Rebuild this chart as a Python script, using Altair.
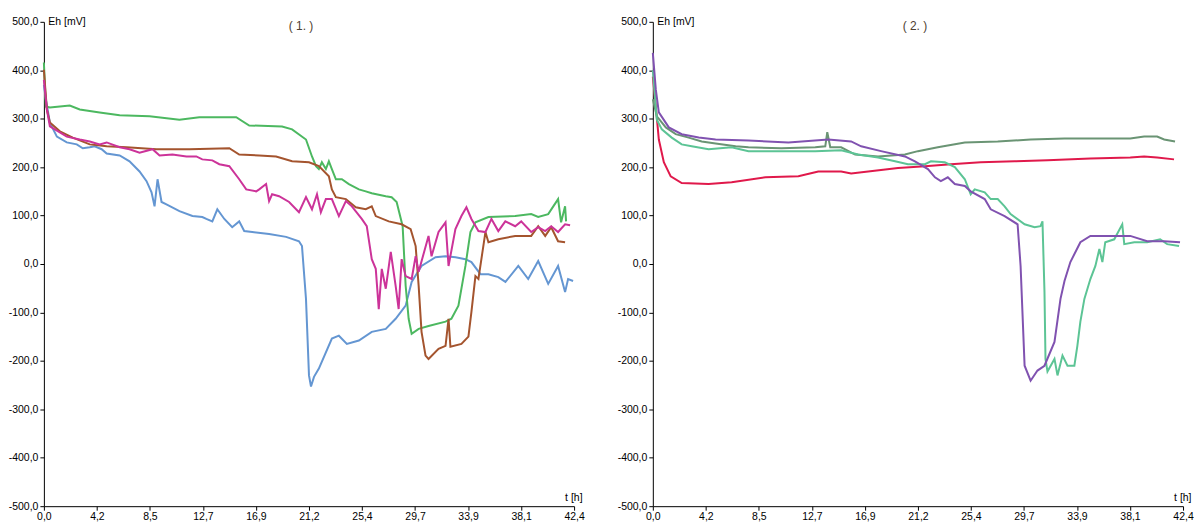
import json
import altair as alt
import pandas as pd

# ---------------- data ----------------
x_tick_values = [0.0, 4.24, 8.48, 12.72, 16.96, 21.2, 25.44, 29.68, 33.92, 38.16, 42.4]
x_tick_labels = ["0,0", "4,2", "8,5", "12,7", "16,9", "21,2", "25,4", "29,7", "33,9", "38,1", "42,4"]
y_tick_values = [-500, -400, -300, -200, -100, 0, 100, 200, 300, 400, 500]
panel_titles = ["( 1. )", "( 2. )"]

# panel 1  (t [h], Eh [mV])
p1_blue = [(0, 370), (0.16, 340), (0.48, 292), (1.04, 263), (1.83, 251), (2.63, 247), (3.11, 239),
           (3.67, 241), (4.06, 243), (4.62, 237), (5.02, 228), (6.06, 224), (6.85, 212), (7.65, 191),
           (8.21, 171), (8.61, 148), (8.85, 119), (9.09, 175), (9.41, 128), (9.8, 123), (10.84, 109),
           (11.88, 99), (12.67, 97), (12.99, 93), (13.47, 88), (13.87, 113), (14.43, 93), (15.06, 76),
           (15.62, 88), (16.02, 68), (16.66, 66), (18.01, 62), (19.37, 56), (20.4, 47), (20.64, 37),
           (20.96, -72), (21.2, -230), (21.36, -253), (21.6, -233), (21.99, -216), (23.03, -154),
           (23.59, -148), (24.23, -165), (25.19, -158), (26.22, -140), (27.34, -134), (28.13, -113),
           (28.93, -86), (29.41, -37), (30.2, -4), (31.32, 14), (32.12, 16), (32.92, 14), (33.71, 10),
           (34.19, 4), (34.91, -21), (35.55, -21), (36.34, -27), (36.91, -37), (37.94, -4), (38.73, -31),
           (39.53, 6), (40.33, -41), (41.12, -4), (41.68, -58), (41.92, -31), (42.32, -35)]
p1_green = [(0, 416), (0.16, 325), (0.48, 323), (1.28, 325), (2.07, 327), (2.87, 319), (4.46, 313),
            (6.06, 307), (8.45, 305), (10.84, 298), (12.43, 303), (15.38, 303), (16.42, 286), (19.05, 284),
            (19.85, 278), (20.96, 257), (21.44, 222), (21.76, 202), (21.99, 196), (22.23, 210), (22.55, 196),
            (22.79, 212), (23.03, 196), (23.35, 175), (23.83, 175), (24.39, 165), (25.19, 154), (25.74, 150),
            (26.22, 146), (27.34, 140), (27.81, 138), (28.21, 128), (28.69, 78), (28.93, -45), (29.17, -113),
            (29.41, -144), (29.97, -134), (30.76, -128), (32.12, -119), (32.59, -113), (33.15, -86),
            (33.71, -4), (34.11, 66), (34.51, 86), (35.55, 97), (37.69, 99), (38.97, 103), (39.53, 97),
            (40.33, 103), (41.12, 134), (41.36, 86), (41.68, 119), (41.76, 88)]
p1_brown = [(0, 401), (0.24, 319), (0.48, 292), (1.28, 274), (2.31, 261), (3.67, 247), (5.02, 243),
            (6.62, 241), (9.01, 237), (11.64, 237), (14.83, 239), (15.62, 226), (17.22, 224), (18.57, 222),
            (19.85, 212), (21.2, 210), (21.99, 202), (22.79, 181), (23.03, 154), (23.35, 138), (24.15, 134),
            (24.94, 117), (25.74, 113), (26.22, 119), (26.54, 99), (27.58, 88), (28.61, 82), (29.33, 72),
            (29.73, 37), (29.97, -45), (30.2, -140), (30.52, -189), (30.76, -196), (31.56, -175),
            (32.12, -169), (32.36, -113), (32.51, -171), (33.39, -165), (33.95, -150), (34.19, -99),
            (34.51, -25), (34.75, -31), (35.31, 66), (35.55, 45), (36.34, 51), (37.69, 58), (38.97, 58),
            (39.53, 78), (40.09, 58), (40.57, 76), (41.12, 47), (41.68, 45)]
p1_magenta = [(0, 380), (0.24, 319), (0.48, 284), (1.83, 263), (2.87, 257), (3.67, 253), (4.46, 247),
              (5.02, 251), (6.06, 241), (6.85, 237), (7.65, 230), (8.69, 237), (9.25, 224), (10.28, 226),
              (11.4, 222), (12.19, 222), (12.67, 216), (13.47, 214), (14.03, 206), (14.83, 202), (15.62, 175),
              (16.18, 154), (16.98, 150), (17.22, 154), (17.77, 165), (18.01, 130), (18.25, 144), (18.81, 140),
              (19.61, 128), (20.4, 107), (20.96, 138), (21.44, 113), (21.84, 144), (22.15, 107), (22.55, 134),
              (23.03, 134), (23.59, 99), (24.15, 130), (24.63, 119), (25.42, 93), (25.82, 78), (26.22, 10),
              (26.54, -10), (26.78, -93), (27.02, -10), (27.34, -51), (27.74, 25), (28.13, -45), (28.37, -93),
              (28.61, 10), (28.93, -25), (29.41, -31), (29.73, 16), (29.97, -16), (30.76, 58), (31.0, 16),
              (31.56, 66), (32.12, 86), (32.36, -4), (32.91, 72), (33.39, 99), (33.79, 117), (34.19, 93),
              (34.75, 68), (35.31, 66), (35.79, 93), (36.34, 68), (36.9, 88), (37.69, 78), (38.17, 88),
              (38.97, 66), (39.53, 76), (40.09, 68), (40.57, 78), (41.12, 66), (41.68, 82), (42.08, 80)]

# panel 2
p2_red = [(0, 387), (0.24, 325), (0.48, 257), (0.88, 210), (1.43, 181), (2.31, 167), (4.46, 165),
          (6.3, 169), (9.0, 179), (11.64, 181), (13.23, 191), (15.06, 191), (15.86, 187), (17.22, 191),
          (19.61, 198), (21.76, 202), (23.83, 206), (26.22, 210), (28.93, 212), (31.56, 214), (34.99, 218),
          (38.18, 220), (39.29, 222), (40.33, 220), (41.68, 216)]
p2_purple = [(0, 436), (0.24, 360), (0.48, 313), (1.28, 282), (2.31, 268), (3.67, 261), (5.02, 257),
             (7.65, 255), (10.84, 251), (14.03, 257), (15.86, 253), (16.66, 243), (18.25, 233), (20.16, 222),
             (20.96, 212), (22.0, 196), (22.56, 179), (23.03, 171), (23.59, 179), (24.15, 165), (24.95, 161),
             (25.42, 150), (26.54, 134), (27.02, 113), (28.13, 99), (29.17, 82), (29.41, -4), (29.73, -210),
             (30.21, -241), (30.76, -220), (31.32, -210), (32.12, -161), (32.6, -72), (32.92, -35),
             (33.39, 4), (34.19, 45), (34.99, 58), (36.58, 58), (38.18, 58), (39.53, 47), (40.89, 47),
             (42.16, 45)]
p2_lightgreen = [(0, 400), (0.32, 298), (0.72, 278), (1.51, 261), (2.31, 247), (3.11, 243), (4.46, 237),
                 (6.3, 241), (7.65, 233), (10.28, 233), (12.99, 233), (15.06, 235), (16.42, 226), (18.01, 220),
                 (19.37, 212), (20.4, 206), (21.76, 206), (22.24, 212), (23.35, 210), (24.15, 200), (24.95, 175),
                 (25.42, 144), (25.74, 154), (26.54, 148), (27.02, 134), (27.58, 134), (28.13, 119), (28.61, 103),
                 (29.73, 82), (30.53, 76), (31.0, 78), (31.16, 88), (31.32, -58), (31.4, -196), (31.56, -222),
                 (32.12, -196), (32.36, -230), (32.76, -189), (33.16, -210), (33.71, -210), (33.95, -169),
                 (34.19, -119), (34.51, -72), (34.99, -31), (35.39, -4), (35.71, 31), (35.95, 4), (36.18, 45),
                 (36.9, 51), (37.54, 82), (37.7, 41), (38.5, 45), (39.53, 45), (40.57, 51), (41.13, 41),
                 (42.08, 37)]
p2_darkgreen = [(0, 340), (0.32, 305), (1.04, 282), (1.83, 268), (2.87, 261), (3.91, 253), (5.02, 249),
                (6.62, 243), (7.65, 241), (10.28, 239), (12.99, 241), (13.79, 243), (13.95, 272), (14.19, 241),
                (15.06, 241), (16.18, 226), (18.01, 222), (20.16, 226), (21.2, 233), (22.79, 241), (24.95, 251),
                (27.58, 253), (30.21, 257), (32.92, 259), (35.55, 259), (38.18, 259), (39.29, 263), (40.33, 263),
                (40.89, 257), (41.76, 253)]

panel1_series = {"s1": p1_blue, "s2": p1_green, "s3": p1_brown, "s4": p1_magenta}
panel1_colors = ["#6496d2", "#4cb860", "#a4542e", "#cc3399"]
panel2_series = {"r1": p2_red, "r2": p2_darkgreen, "r3": p2_lightgreen, "r4": p2_purple}
panel2_colors = ["#e0194b", "#6a9474", "#5cc495", "#8052b0"]

FONT = "Liberation Sans Narrow, Liberation Sans, Arial, sans-serif"
FS = 10.5
W = 532
H = 486


def frame(series):
    rows = []
    for name, pts in series.items():
        for i, (t, v) in enumerate(pts):
            rows.append({"series": name, "t": t, "eh": v, "order": i})
    return pd.DataFrame(rows)


x_label_expr = json.dumps(x_tick_labels) + "[round(datum.value / 4.24)]"
y_label_expr = "replace(replace(format(datum.value, '.1f'), '.', ','), '\u2212', '-')"


def panel(series, colors, title, title_x):
    df = frame(series)
    xaxis = alt.Axis(values=x_tick_values, labelExpr=x_label_expr, title="t [h]",
                     titleAngle=0, titleX=W + 8, titleY=-9, titleAlign="right",
                     titleBaseline="middle", titleFontWeight="normal", titleFont=FONT,
                     titleFontSize=FS, titleColor="#000000",
                     labelFont=FONT, labelFontSize=FS, labelColor="#000000",
                     domainColor="#000000", tickColor="#000000",
                     grid=False, tickSize=4, labelPadding=1,
                     labelOverlap=False, labelFlush=False)
    yaxis = alt.Axis(values=y_tick_values, labelExpr=y_label_expr, title="Eh [mV]",
                     titleAngle=0, titleX=4, titleY=0, titleAlign="left",
                     titleBaseline="middle", titleFontWeight="normal", titleFont=FONT,
                     titleFontSize=FS, titleColor="#000000",
                     labelFont=FONT, labelFontSize=FS, labelColor="#000000",
                     domainColor="#000000", tickColor="#000000",
                     grid=False, tickSize=4, labelPadding=2,
                     minExtent=36, maxExtent=36)
    lines = alt.Chart(df).mark_line(strokeWidth=2, interpolate="linear").encode(
        x=alt.X("t:Q", scale=alt.Scale(domain=[0, 42.4], nice=False, zero=False), axis=xaxis),
        y=alt.Y("eh:Q", scale=alt.Scale(domain=[-500, 500], nice=False), axis=yaxis),
        color=alt.Color("series:N", scale=alt.Scale(domain=list(series.keys()), range=colors), legend=None),
        order="order:Q",
    )
    label = alt.Chart(pd.DataFrame({"label": [title]})).mark_text(
        fontSize=12, font=FONT, color="#4d4032", align="center", baseline="middle"
    ).encode(text="label:N", x=alt.value(title_x), y=alt.value(4))
    return alt.layer(lines, label).properties(width=W, height=H)


p1 = panel(panel1_series, panel1_colors, panel_titles[0], 258)
p2 = panel(panel2_series, panel2_colors, panel_titles[1], 263)

chart = alt.hconcat(p1, p2, spacing=32).resolve_scale(color="independent").properties(
    padding={"left": 0, "top": 8, "right": 0, "bottom": 0},
    background="white",
).configure_view(stroke=None)

chart.save("out.html", embed_options={"renderer": "svg", "actions": False})
